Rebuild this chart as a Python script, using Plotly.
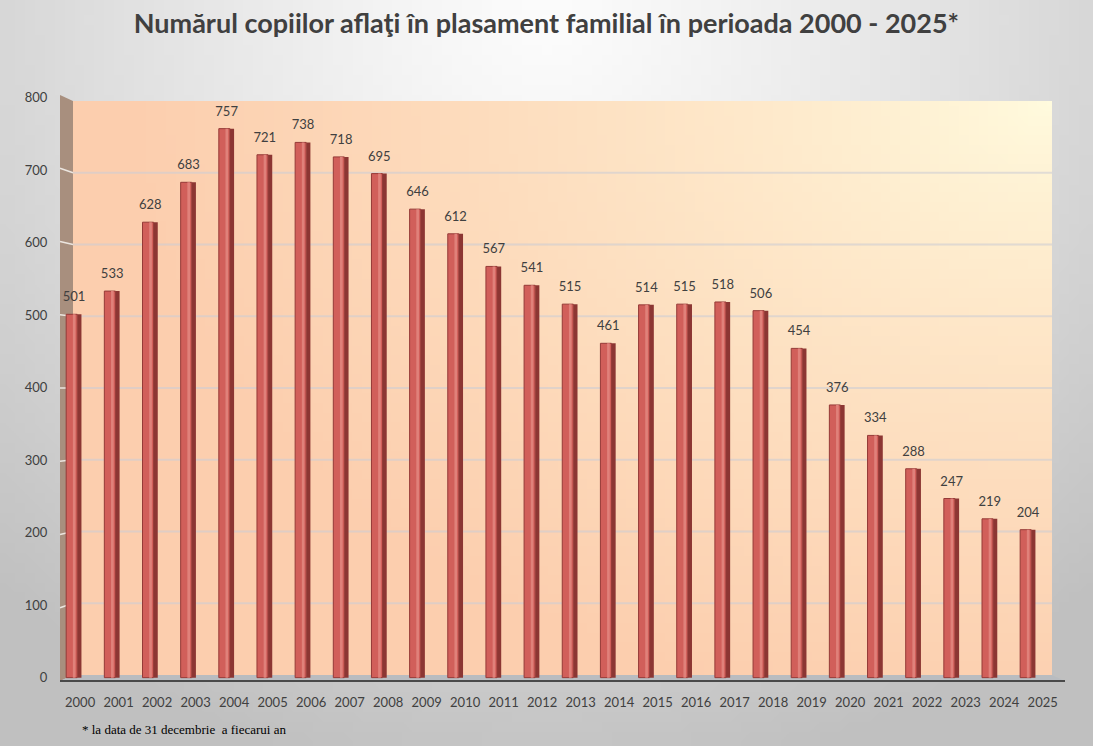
import base64
import struct
import zlib

import plotly.graph_objects as go

# date
ani = ["2000", "2001", "2002", "2003", "2004", "2005", "2006", "2007", "2008",
       "2009", "2010", "2011", "2012", "2013", "2014", "2015", "2016", "2017",
       "2018", "2019", "2020", "2021", "2022", "2023", "2024", "2025"]
copii = [501, 533, 628, 683, 757, 721, 738, 718, 695, 646, 612, 567, 541,
         515, 461, 514, 515, 518, 506, 454, 376, 334, 288, 247, 219, 204]
valori_axa = [0, 100, 200, 300, 400, 500, 600, 700, 800]

titlu = "Numărul copiilor aflaţi în plasament familial în perioada 2000 - 2025*"
nota = "* la data de 31 decembrie  a fiecarui an"

W, H = 1093, 746
ML, MR, MT, MB = 60, 28, 96, 64
PW, PH = W - ML - MR, H - MT - MB


def png_uri(w, h, fn):
    rows = b""
    for j in range(h):
        row = bytearray([0])
        for i in range(w):
            row.extend(fn(i / (w - 1), j / (h - 1)))
        rows += bytes(row)

    def chunk(tag, data):
        c = tag + data
        return struct.pack(">I", len(data)) + c + struct.pack(">I", zlib.crc32(c) & 0xFFFFFFFF)

    raw = (b"\x89PNG\r\n\x1a\n"
           + chunk(b"IHDR", struct.pack(">IIBBBBB", w, h, 8, 2, 0, 0, 0))
           + chunk(b"IDAT", zlib.compress(rows, 9))
           + chunk(b"IEND", b""))
    return "data:image/png;base64," + base64.b64encode(raw).decode()


def mix(c1, c2, t):
    t = max(0.0, min(1.0, t))
    return [int(round(a + (b - a) * t)) for a, b in zip(c1, c2)]


def fundal(x, y):
    d = (((x - 0.5) / 0.75) ** 2 + ((y - 0.02) / 1.05) ** 2) ** 0.5
    return mix((252, 252, 252), (192, 192, 192), d ** 1.2)


def perete(x, y):
    d = (((1 - x) / 0.95) ** 2 + (y / 1.1) ** 2) ** 0.5
    return mix((255, 251, 222), (252, 206, 174), d ** 0.8)


def px(xp):
    return (xp - ML) / PW


def py(yp):
    return (H - MB - yp) / PH


def P(xp, yp):
    return "%.5f,%.5f" % (px(xp), py(yp))


shapes = []
# perete lateral
shapes.append(dict(type="path", xref="paper", yref="paper", layer="below",
                   path="M%s L%s L%s L%s Z" % (P(60, 95), P(73, 101), P(73, 675), P(60, 681)),
                   fillcolor="#a88f7e", line=dict(width=0)))
# podea
shapes.append(dict(type="path", xref="paper", yref="paper", layer="below",
                   path="M%s L%s L%s L%s Z" % (P(60, 681), P(73, 675), P(1052, 675), P(1065, 681)),
                   fillcolor="#b9bcc0", line=dict(width=0)))
shapes.append(dict(type="line", xref="paper", yref="paper", layer="below",
                   x0=px(60), y0=py(681), x1=px(1065), y1=py(681),
                   line=dict(color="#4a4a4a", width=2)))
for v in valori_axa[1:-1]:
    yb = 675 - v * 0.7175
    yf = 681 - v * 0.7325
    shapes.append(dict(type="line", xref="paper", yref="paper", layer="below",
                       x0=px(73), y0=py(yb), x1=px(1052), y1=py(yb),
                       line=dict(color="rgba(205,205,212,0.6)", width=2)))
    shapes.append(dict(type="line", xref="paper", yref="paper", layer="below",
                       x0=px(60), y0=py(yf), x1=px(73), y1=py(yb),
                       line=dict(color="#ece6e0", width=1.5)))

images = [
    dict(source=png_uri(110, 75, fundal), xref="paper", yref="paper",
         x=px(0), y=py(0), sizex=W / PW, sizey=H / PH,
         xanchor="left", yanchor="top", sizing="stretch", layer="below"),
    dict(source=png_uri(100, 60, perete), xref="paper", yref="paper",
         x=px(73), y=py(101), sizex=(1052 - 73) / PW, sizey=(675 - 101) / PH,
         xanchor="left", yanchor="top", sizing="stretch", layer="below"),
]

idx = list(range(len(ani)))

fig = go.Figure()
fig.add_trace(go.Bar(x=idx, y=copii, width=0.11, offset=0.085,
                     marker=dict(color="#8c3633", line=dict(width=0)),
                     hoverinfo="skip"))
fig.add_trace(go.Bar(x=idx, y=copii, width=0.29, offset=-0.205,
                     marker=dict(color="#d15f5a", line=dict(color="#953a37", width=1)),
                     name="copii"))
fig.add_trace(go.Bar(x=idx, y=copii, width=0.07, offset=-0.03,
                     marker=dict(color="#e0817a", line=dict(width=0)),
                     hoverinfo="skip"))
# etichete de valori
fig.add_trace(go.Scatter(x=idx, y=copii, mode="markers+text",
                         text=[str(v) for v in copii], textposition="top center",
                         marker=dict(size=14, opacity=0),
                         textfont=dict(family="Lato", size=13, color="#404040"),
                         cliponaxis=False, hoverinfo="skip"))

fig.update_layout(
    width=W, height=H,
    margin=dict(l=ML, r=MR, t=MT, b=MB),
    barmode="overlay",
    showlegend=False,
    paper_bgcolor="#d0d0d0",
    plot_bgcolor="rgba(0,0,0,0)",
    shapes=shapes,
    images=images,
    title=dict(text="<b>%s</b>" % titlu, x=0.484, xref="paper", y=0.968, yanchor="middle",
               font=dict(family="Lato", size=27, color="#404040")),
    annotations=[dict(text=nota, xref="paper", yref="paper", x=px(80), y=py(730),
                      xanchor="left", yanchor="middle", showarrow=False,
                      font=dict(family="Liberation Serif", size=13, color="#000000"))],
    font=dict(family="Lato", size=13, color="#404040"),
)
fig.update_xaxes(range=[-0.367, 25.97],
                 tickvals=[i + 0.16 + 0.009 * i for i in idx], ticktext=ani,
                 ticks="outside", ticklen=8, tickcolor="rgba(0,0,0,0)",
                 showgrid=False, zeroline=False, showline=False)
fig.update_yaxes(range=[-6, 802], tickvals=valori_axa,
                 ticks="outside", ticklen=9, tickcolor="rgba(0,0,0,0)",
                 showgrid=False, zeroline=False, showline=False)

fig.write_html("out.html", config={"displayModeBar": False},
               post_script="document.body.style.margin='0';document.body.style.background='#d0d0d0';")
